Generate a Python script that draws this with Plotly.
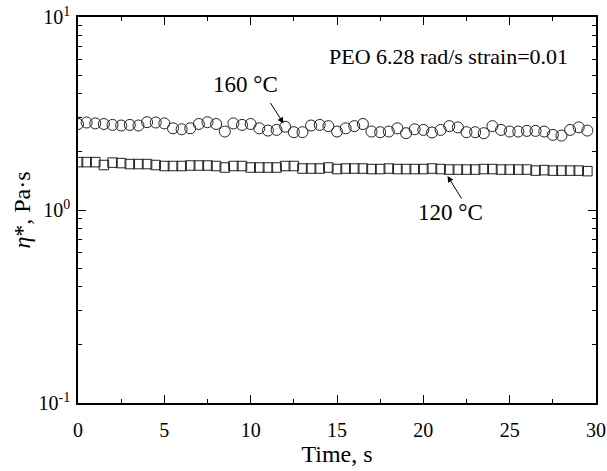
import math
import plotly.graph_objects as go

time_s = [i * 0.5 for i in range(60)]

eta_160C = [2.79, 2.84, 2.81, 2.79, 2.76, 2.74, 2.76, 2.74, 2.85, 2.84,
            2.81, 2.65, 2.62, 2.65, 2.79, 2.85, 2.79, 2.55, 2.81, 2.76,
            2.79, 2.65, 2.58, 2.60, 2.70, 2.53, 2.53, 2.74, 2.76, 2.72,
            2.55, 2.65, 2.72, 2.79, 2.55, 2.53, 2.55, 2.65, 2.50, 2.62,
            2.60, 2.52, 2.60, 2.72, 2.68, 2.53, 2.53, 2.50, 2.72, 2.60,
            2.55, 2.55, 2.57, 2.57, 2.55, 2.45, 2.43, 2.60, 2.68, 2.58]

eta_120C = [1.77, 1.77, 1.77, 1.71, 1.76, 1.75, 1.73, 1.73, 1.73, 1.71,
            1.69, 1.69, 1.69, 1.70, 1.70, 1.70, 1.69, 1.66, 1.69, 1.69,
            1.66, 1.66, 1.66, 1.66, 1.69, 1.69, 1.64, 1.64, 1.64, 1.66,
            1.63, 1.64, 1.64, 1.64, 1.63, 1.63, 1.64, 1.63, 1.63, 1.63,
            1.63, 1.64, 1.63, 1.62, 1.62, 1.62, 1.62, 1.63, 1.63, 1.62,
            1.62, 1.62, 1.62, 1.60, 1.61, 1.60, 1.60, 1.60, 1.60, 1.59]

x_ticks = [0, 5, 10, 15, 20, 25, 30]
y_tickvals = [0.1, 1, 10]
y_ticktext = ["10<sup>-1</sup>", "10<sup>0</sup>", "10<sup>1</sup>"]
y_minor = [m * 10 ** e for e in (-1, 0) for m in range(2, 10)]

FONT = "Liberation Serif, Times New Roman, serif"

fig = go.Figure()
fig.add_trace(go.Scatter(
    x=time_s, y=eta_160C, mode="markers", name="160 °C",
    marker=dict(symbol="circle-open", size=11, color="#222",
                line=dict(width=1, color="#222")),
))
fig.add_trace(go.Scatter(
    x=time_s, y=eta_120C, mode="markers", name="120 °C",
    marker=dict(symbol="square-open", size=9.5, color="#222",
                line=dict(width=1, color="#222")),
))

axis_common = dict(
    showline=True, linecolor="black", linewidth=1.5, mirror="ticks",
    ticks="inside", ticklen=8, tickwidth=1.2, tickcolor="black",
    showgrid=False, zeroline=False, automargin=False,
    tickfont=dict(family=FONT, size=20, color="black"),
)

fig.update_xaxes(
    range=[0, 30], tickvals=x_ticks, ticklabelstandoff=8,
    title=dict(text="Time, s", font=dict(family=FONT, size=24, color="black"), standoff=5),
    minor=dict(ticks="inside", ticklen=4, tickwidth=1, tickcolor="black", dtick=2.5, tick0=0),
    **axis_common,
)
fig.update_yaxes(
    type="log", range=[-1, 1], tickvals=y_tickvals, ticktext=y_ticktext,
    ticklabelstandoff=2,
    title=dict(text="<i>η</i>*, Pa·s", font=dict(family=FONT, size=24, color="black"), standoff=1),
    minor=dict(ticks="inside", ticklen=4, tickwidth=1, tickcolor="black",
               tickmode="array", tickvals=y_minor),
    **axis_common,
)

fig.add_annotation(x=11.9, y=math.log10(2.81), ax=-14, ay=-22, text="", showarrow=True,
                   arrowhead=2, arrowsize=1.2, arrowwidth=1, arrowcolor="black")
fig.add_annotation(x=9.7, y=math.log10(4.45), text="160 °C", showarrow=False,
                   font=dict(family=FONT, size=23, color="black"))
fig.add_annotation(x=21.4, y=math.log10(1.50), ax=15, ay=24, text="", showarrow=True,
                   arrowhead=2, arrowsize=1.2, arrowwidth=1, arrowcolor="black")
fig.add_annotation(x=21.6, y=math.log10(0.965), text="120 °C", showarrow=False,
                   font=dict(family=FONT, size=23, color="black"))
fig.add_annotation(xref="paper", yref="paper", x=0.95, y=0.935, xanchor="right",
                   text="PEO 6.28 rad/s strain=0.01", showarrow=False,
                   font=dict(family=FONT, size=22, color="black"))

fig.update_layout(
    width=607, height=471,
    margin=dict(l=78, r=11, t=17, b=68),
    plot_bgcolor="white", paper_bgcolor="white",
    showlegend=False,
    font=dict(family=FONT, color="black"),
)

fig.write_html(
    "out.html",
    config={"displayModeBar": False},
    post_script="document.body.style.margin='0';document.body.style.overflow='hidden';",
)
